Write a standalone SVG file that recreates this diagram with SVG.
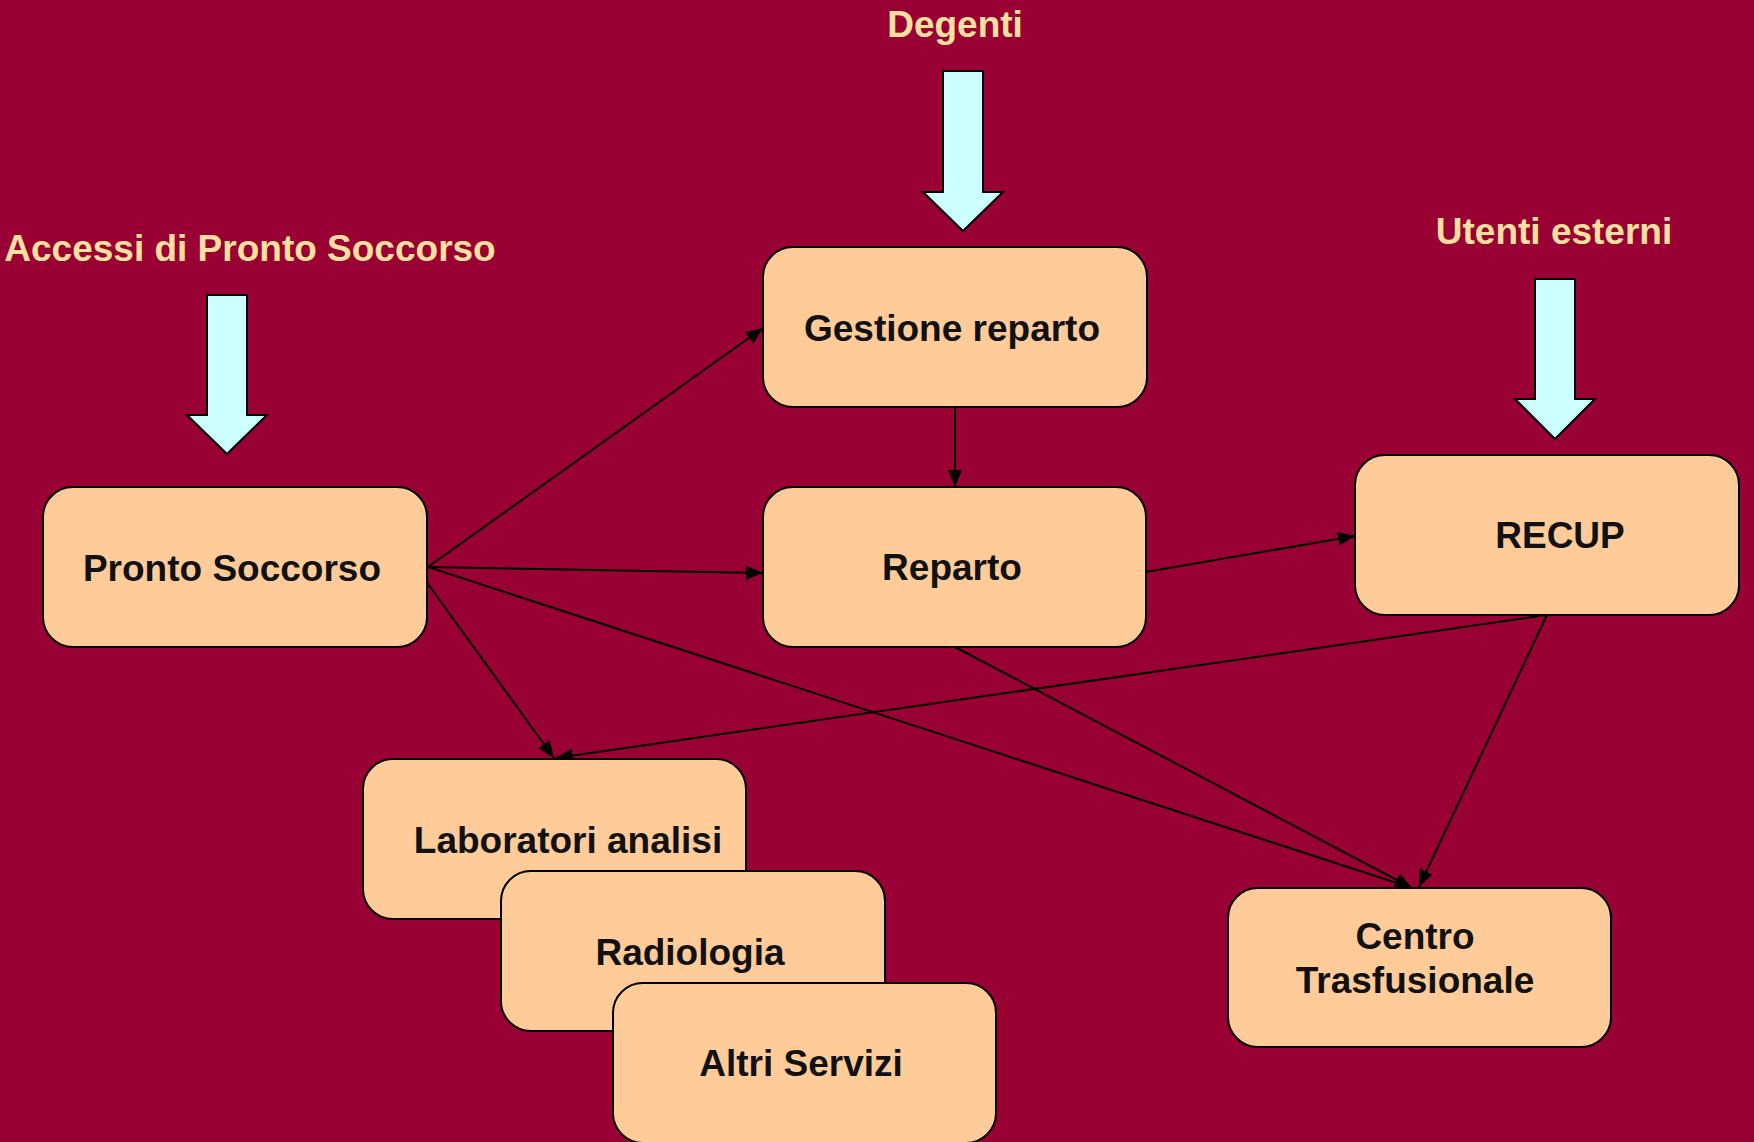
<svg xmlns="http://www.w3.org/2000/svg" width="1754" height="1142" viewBox="0 0 1754 1142">
<style>
.bg{fill:#990033}
.box{fill:#FFCC99;stroke:#000;stroke-width:2}
.lbl{font-family:"Liberation Sans",Arial,sans-serif;font-weight:bold;font-size:37px;fill:#111;text-anchor:middle}
.hdr{font-family:"Liberation Sans",Arial,sans-serif;font-weight:bold;font-size:37px;fill:#FFE0A0;text-anchor:middle}
.blk{fill:#CCFFFF;stroke:#000;stroke-width:2;stroke-linejoin:miter}
.con{stroke:#000;stroke-width:2;fill:none;marker-end:url(#ah)}
</style>
<defs>
<marker id="ah" markerUnits="userSpaceOnUse" markerWidth="18" markerHeight="14" refX="17" refY="7" orient="auto">
<path d="M0,0 L17,7 L0,14 z" fill="#000"/>
</marker>
</defs>
<rect class="bg" x="0" y="0" width="1754" height="1142"/>

<g id="inputs">
<text class="hdr" x="250" y="261">Accessi di Pronto Soccorso</text>
<polygon class="blk" points="207,295 247,295 247,415 267,415 227,454 187,415 207,415"/>
<text class="hdr" x="955" y="37">Degenti</text>
<polygon class="blk" points="943,71 983,71 983,192 1003,192 963,231 923,192 943,192"/>
<text class="hdr" x="1554" y="244">Utenti esterni</text>
<polygon class="blk" points="1535,279 1575,279 1575,399 1595,399 1555,439 1515,399 1535,399"/>
</g>

<g id="connectors">
<line class="con" x1="428" y1="567" x2="763" y2="328"/>
<line class="con" x1="428" y1="567" x2="763" y2="573"/>
<line class="con" x1="420" y1="573" x2="554" y2="758"/>
<line class="con" x1="428" y1="567" x2="1412" y2="888"/>
<line class="con" x1="955" y1="407" x2="955" y2="487"/>
<line class="con" x1="1140" y1="573" x2="1355" y2="536"/>
<line class="con" x1="955" y1="647" x2="1412" y2="888"/>
<line class="con" x1="1547" y1="615" x2="556" y2="758"/>
<line class="con" x1="1547" y1="615" x2="1419" y2="887"/>
</g>

<g id="gestione">
<rect class="box" x="763" y="247" width="384" height="160" rx="30"/>
<text class="lbl" x="952" y="341">Gestione reparto</text>
</g>
<g id="pronto">
<rect class="box" x="43" y="487" width="384" height="160" rx="30"/>
<text class="lbl" x="232" y="581">Pronto Soccorso</text>
</g>
<g id="reparto">
<rect class="box" x="763" y="487" width="383" height="160" rx="30"/>
<text class="lbl" x="952" y="580">Reparto</text>
</g>
<g id="recup">
<rect class="box" x="1355" y="455" width="384" height="160" rx="30"/>
<text class="lbl" x="1560" y="548">RECUP</text>
</g>
<g id="laboratori">
<rect class="box" x="363" y="759" width="383" height="160" rx="30"/>
<text class="lbl" x="568" y="853">Laboratori analisi</text>
</g>
<g id="radiologia">
<rect class="box" x="501" y="871" width="384" height="160" rx="30"/>
<text class="lbl" x="690" y="965">Radiologia</text>
</g>
<g id="altri">
<rect class="box" x="613" y="983" width="383" height="160" rx="30"/>
<text class="lbl" x="801" y="1076">Altri Servizi</text>
</g>
<g id="centro">
<rect class="box" x="1228" y="888" width="383" height="159" rx="30"/>
<text class="lbl" x="1415" y="949">Centro</text>
<text class="lbl" x="1415" y="993">Trasfusionale</text>
</g>
</svg>
